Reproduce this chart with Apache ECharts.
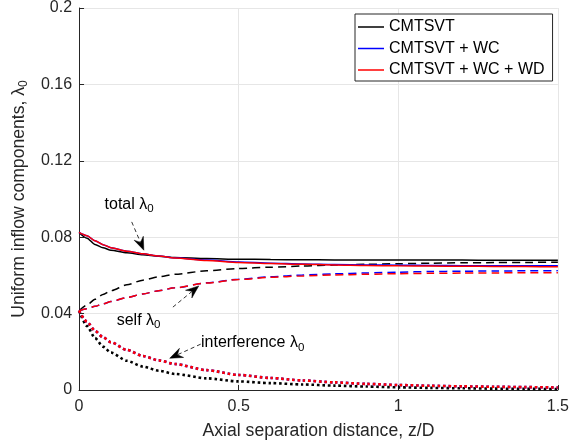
<!DOCTYPE html>
<html>
<head>
<meta charset="utf-8">
<script src="https://cdn.jsdelivr.net/npm/echarts@6/dist/echarts.min.js"></script>
<style>html,body{margin:0;padding:0;background:#fff}#c{width:572px;height:447px}</style>
</head>
<body>
<div id="c"></div>
<script>
// ---- data ----
const zD = [0, 0.025, 0.05, 0.075, 0.1, 0.15, 0.2, 0.25, 0.3, 0.4, 0.5, 0.6, 0.7, 0.8, 0.9, 1.0, 1.1, 1.2, 1.3, 1.4, 1.5];

const totalBase = [0.0825, 0.0795, 0.0762, 0.0745, 0.0732, 0.0718, 0.0708, 0.0700, 0.0694, 0.0688, 0.0685, 0.0683, 0.0682, 0.0681, 0.0680, 0.0680, 0.0680, 0.0680, 0.0679, 0.0679, 0.0679];
const totalWC   = [0.0825, 0.0808, 0.0781, 0.0761, 0.0745, 0.0727, 0.0713, 0.0701, 0.0692, 0.0680, 0.0670, 0.0664, 0.0660, 0.0657, 0.0655, 0.0653, 0.0652, 0.0651, 0.0651, 0.0650, 0.0650];
const totalWCWD = [0.0825, 0.0808, 0.0781, 0.0761, 0.0745, 0.0727, 0.0713, 0.0701, 0.0691, 0.0678, 0.0668, 0.0662, 0.0658, 0.0655, 0.0652, 0.0650, 0.0649, 0.0648, 0.0647, 0.0646, 0.0645];

const selfBase = [0.0415, 0.0445, 0.0475, 0.0500, 0.0520, 0.0551, 0.0575, 0.0593, 0.0606, 0.0624, 0.0636, 0.0643, 0.0649, 0.0654, 0.0658, 0.0661, 0.0664, 0.0666, 0.0667, 0.0668, 0.0669];
const selfWC   = [0.0415, 0.0426, 0.0438, 0.0451, 0.0463, 0.0484, 0.0503, 0.0520, 0.0535, 0.0561, 0.0580, 0.0593, 0.0602, 0.0608, 0.0613, 0.0617, 0.0620, 0.0622, 0.0623, 0.0624, 0.0625];
const selfWCWD = [0.0415, 0.0426, 0.0438, 0.0451, 0.0463, 0.0484, 0.0503, 0.0520, 0.0535, 0.0560, 0.0578, 0.0590, 0.0597, 0.0602, 0.0606, 0.0609, 0.0611, 0.0612, 0.0613, 0.0614, 0.0614];

const intBase = [0.0415, 0.0335, 0.0272, 0.0227, 0.0196, 0.0153, 0.0123, 0.0101, 0.0084, 0.0061, 0.0045, 0.0036, 0.0029, 0.0023, 0.0018, 0.0014, 0.0011, 0.0009, 0.0007, 0.0006, 0.0005];
const intWC   = [0.0415, 0.0357, 0.0310, 0.0276, 0.0250, 0.0210, 0.0178, 0.0155, 0.0136, 0.0104, 0.0079, 0.0063, 0.0050, 0.0040, 0.0032, 0.0026, 0.0022, 0.0019, 0.0017, 0.0015, 0.0013];
const intWCWD = [0.0415, 0.0357, 0.0310, 0.0276, 0.0250, 0.0210, 0.0178, 0.0155, 0.0136, 0.0104, 0.0079, 0.0063, 0.0050, 0.0040, 0.0032, 0.0026, 0.0022, 0.0019, 0.0017, 0.0015, 0.0013];

const legendNames = ['CMTSVT', 'CMTSVT + WC', 'CMTSVT + WC + WD'];
const xTicks = [0, 0.5, 1, 1.5];
const yTicks = [0, 0.04, 0.08, 0.12, 0.16, 0.2];

// annotations (data coordinates): text anchor and arrow start -> tip
const annTotal = {text: 'total ', at: [0.080, 0.0973], from: [0.165, 0.0880], to: [0.203, 0.0732]};
const annSelf  = {text: 'self ', at: [0.118, 0.0366], from: [0.294, 0.0434], to: [0.375, 0.0545]};
const annInt   = {text: 'interference ', at: [0.382, 0.0247], from: [0.381, 0.0240], to: [0.284, 0.0166]};

// ---- chart ----
const FONT = '"Liberation Sans", Arial, Helvetica, sans-serif';
const AX = '#262626';
const chart = echarts.init(document.getElementById('c'), null, {renderer: 'canvas'});

function pairs(ys) { return zD.map((x, i) => [x, ys[i]]); }
function mk(name, ys, color, kind) {
  let lt = 'solid', w = 1.5;
  if (kind === 'dash') { lt = [8, 5]; w = 1.5; }
  if (kind === 'dot') { lt = [2.6, 2.8]; w = 2.6; }
  return {
    name: name, type: 'line', data: pairs(ys), symbol: 'none', showSymbol: false, smooth: 0.25, smoothMonotone: 'x',
    lineStyle: {color: color, width: w, type: lt, cap: 'butt'}, itemStyle: {color: color},
    animation: false, silent: true, z: 3
  };
}

const series = [
  mk(legendNames[0], totalBase, '#000000', 'solid'),
  mk('self0', selfBase, '#000000', 'dash'),
  mk('int0', intBase, '#000000', 'dot'),
  mk(legendNames[1], totalWC, '#0000ff', 'solid'),
  mk('self1', selfWC, '#0000ff', 'dash'),
  mk('int1', intWC, '#0000ff', 'dot'),
  mk(legendNames[2], totalWCWD, '#ff0000', 'solid'),
  mk('self2', selfWCWD, '#ff0000', 'dash'),
  mk('int2', intWCWD, '#ff0000', 'dot')
];

const fmtY = v => yTicks.some(t => Math.abs(t - v) < 1e-9) ? String(+v.toFixed(2)) : '';

chart.setOption({
  animation: false,
  backgroundColor: '#ffffff',
  textStyle: {fontFamily: FONT},
  grid: {left: 75, right: 13, top: 7.5, bottom: 57, containLabel: false},
  legend: {
    data: legendNames, orient: 'vertical', left: 355, top: 14,
    icon: 'rect', itemWidth: 26, itemHeight: 1.5, itemGap: 3.5,
    padding: [4, 8, 2, 3],
    borderColor: '#262626', borderWidth: 1, backgroundColor: '#ffffff',
    textStyle: {fontFamily: FONT, fontSize: 16, color: '#000', lineHeight: 18},
    selectedMode: false
  },
  xAxis: {
    type: 'value', min: 0, max: 1.5, interval: 0.5,
    name: 'Axial separation distance, z/D', nameLocation: 'middle', nameGap: 32,
    nameTextStyle: {fontFamily: FONT, fontSize: 17.6, color: AX},
    axisLine: {show: true, onZero: false, lineStyle: {color: AX, width: 1}},
    axisTick: {show: true, inside: true, length: 5, lineStyle: {color: AX}},
    axisLabel: {fontFamily: FONT, fontSize: 16, color: AX, margin: 9, formatter: v => String(v)},
    splitLine: {show: true, lineStyle: {color: '#e6e6e6', width: 1}}
  },
  yAxis: {
    type: 'value', min: 0, max: 0.2, interval: 0.04,
    name: '{n|Uniform inflow components, λ}{s|0}', nameLocation: 'middle', nameGap: 48,
    nameTextStyle: {fontFamily: FONT, color: AX,
      rich: {n: {fontFamily: FONT, fontSize: 17.6, lineHeight: 17, verticalAlign: 'top', color: AX},
             s: {fontFamily: FONT, fontSize: 12, lineHeight: 12, padding: [10, 0, 0, 0], color: AX}}},
    axisLine: {show: true, lineStyle: {color: AX, width: 1}},
    axisTick: {show: true, inside: true, length: 5, lineStyle: {color: AX}},
    axisLabel: {fontFamily: FONT, fontSize: 16, color: AX, margin: 7, formatter: fmtY},
    splitLine: {show: true, lineStyle: {color: '#e6e6e6', width: 1}}
  },
  series: series
});

// ---- annotations ----
function annotation(a) {
  const t = chart.convertToPixel({gridIndex: 0}, a.at);
  const s = chart.convertToPixel({gridIndex: 0}, a.from);
  const e = chart.convertToPixel({gridIndex: 0}, a.to);
  const dx = e[0] - s[0], dy = e[1] - s[1];
  const L = Math.hypot(dx, dy), ux = dx / L, uy = dy / L, px = -uy, py = ux;
  const HL = 13, HW = 5, NOTCH = 4.5;
  const b = [e[0] - ux * HL, e[1] - uy * HL];
  const head = [e,
    [b[0] + px * HW, b[1] + py * HW],
    [e[0] - ux * (HL - NOTCH), e[1] - uy * (HL - NOTCH)],
    [b[0] - px * HW, b[1] - py * HW]];
  const lineEnd = [e[0] - ux * (HL - NOTCH), e[1] - uy * (HL - NOTCH)];
  return [
    {type: 'line', shape: {x1: s[0], y1: s[1], x2: lineEnd[0], y2: lineEnd[1]},
     style: {stroke: '#000', lineWidth: 0.8, lineDash: [4, 3]}, z: 10, silent: true},
    {type: 'polygon', shape: {points: head}, style: {fill: '#000', stroke: '#000', lineWidth: 0.5}, z: 10, silent: true},
    {type: 'text', x: t[0], y: t[1] - 8, z: 10, silent: true,
     style: {text: '{n|' + a.text + 'λ}{s|0}', verticalAlign: 'top', align: 'left',
       rich: {n: {fontFamily: FONT, fontSize: 16, lineHeight: 16, verticalAlign: 'top', fill: '#000'},
              s: {fontFamily: FONT, fontSize: 11.5, lineHeight: 11, padding: [10, 0, 0, 0], fill: '#000'}}}}
  ];
}
chart.setOption({graphic: [].concat(annotation(annTotal), annotation(annSelf), annotation(annInt))});
</script>
</body>
</html>
